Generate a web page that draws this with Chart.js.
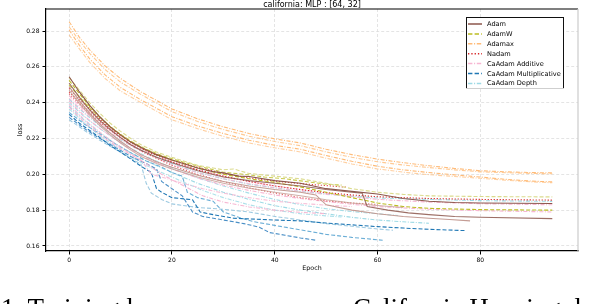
<!DOCTYPE html>
<html><head><meta charset="utf-8">
<script src="https://cdn.jsdelivr.net/npm/chart.js@4.4.1/dist/chart.umd.min.js"></script>
<style>
html,body{margin:0;padding:0;background:#fff;width:592px;height:304px;overflow:hidden;position:relative}
#c{position:absolute;left:0;top:0}
#cap{position:absolute;left:0;top:0;pointer-events:none}
</style></head><body>
<canvas id="c" width="592" height="280"></canvas>
<svg id="cap" width="592" height="304" xmlns="http://www.w3.org/2000/svg">
  <text y="316.5" font-family="Liberation Serif, Times New Roman, serif" font-size="27" fill="#000"><tspan x="1">1. Training loss curves across a</tspan><tspan x="353">California Housing dataset</tspan></text>
</svg>
<script>
const TITLE = "california: MLP : [64, 32]";
const X_LABEL = "Epoch";
const Y_LABEL = "loss";
const EPOCH_TICKS = [0, 20, 40, 60, 80];
const LOSS_TICKS = [0.16, 0.18, 0.20, 0.22, 0.24, 0.26, 0.28];
const OPTIMIZERS = ["Adam", "AdamW", "Adamax", "Nadam", "CaAdam Additive", "CaAdam Multiplicative", "CaAdam Depth"];

// each run: [epoch, loss] pairs
const adamRuns = [
 [[0,0.2545],[2,0.2460],[4,0.2385],[6,0.2320],[8,0.2265],[10,0.2220],[12,0.2180],[14,0.2150],[17,0.2110],[20,0.2080],[25,0.2035],[28,0.2015],[30,0.2008],[33,0.1990],[35,0.1988],[40,0.1965],[45,0.1950],[50,0.1920],[55,0.1905],[60,0.1890],[65,0.1865],[70,0.1850],[75,0.1843],[80,0.1840],[94,0.1837]],
 [[0,0.2510],[2,0.2430],[4,0.2360],[6,0.2300],[8,0.2250],[10,0.2205],[12,0.2165],[14,0.2135],[17,0.2095],[20,0.2065],[25,0.2020],[30,0.1985],[35,0.1965],[40,0.1950],[45,0.1935],[50,0.1915],[55,0.1900],[57,0.1895],[58,0.1820],[62,0.1800],[66,0.1785],[70,0.1775],[75,0.1765],[80,0.1760],[94,0.1753]],
 [[0,0.2490],[2,0.2410],[4,0.2340],[6,0.2280],[8,0.2230],[10,0.2185],[12,0.2145],[14,0.2110],[17,0.2070],[20,0.2040],[25,0.1995],[30,0.1960],[35,0.1935],[40,0.1915],[45,0.1900],[48,0.1885],[50,0.1830],[55,0.1800],[60,0.1780],[65,0.1765],[70,0.1755],[74,0.1748],[78,0.1740]],
 [[0,0.2470],[2,0.2395],[4,0.2330],[6,0.2270],[8,0.2220],[10,0.2175],[12,0.2135],[14,0.2100],[17,0.2060],[20,0.2030],[25,0.1985],[30,0.1950],[35,0.1922],[40,0.1900],[45,0.1880],[50,0.1858],[55,0.1840],[60,0.1826],[65,0.1815]]
];
const adamwRuns = [
 [[0,0.2540],[2,0.2470],[4,0.2400],[6,0.2340],[8,0.2285],[10,0.2240],[12,0.2200],[14,0.2165],[17,0.2125],[20,0.2095],[25,0.2050],[28,0.2035],[30,0.2025],[32,0.2030],[35,0.2005],[40,0.1990],[45,0.1975],[50,0.1950],[55,0.1920],[60,0.1900],[65,0.1888],[70,0.1880],[80,0.1876],[94,0.1874]],
 [[0,0.2525],[2,0.2450],[4,0.2380],[6,0.2320],[8,0.2265],[10,0.2220],[12,0.2180],[14,0.2150],[17,0.2110],[20,0.2080],[25,0.2035],[30,0.2000],[35,0.1975],[40,0.1955],[45,0.1930],[50,0.1900],[55,0.1870],[60,0.1840],[65,0.1820],[70,0.1810],[80,0.1803],[94,0.1800]],
 [[0,0.2500],[3,0.2400],[6,0.2315],[9,0.2245],[12,0.2185],[15,0.2140],[18,0.2105],[22,0.2070],[26,0.2040],[30,0.2012],[34,0.2000],[38,0.1985],[42,0.1975],[46,0.1960],[50,0.1945],[53,0.1940]]
];
const adamaxRuns = [
 [[0,0.2852],[2,0.2765],[4,0.2695],[7,0.2605],[10,0.2535],[14,0.2460],[20,0.2365],[25,0.2310],[30,0.2265],[35,0.2228],[40,0.2198],[45,0.2175],[50,0.2140],[55,0.2110],[60,0.2085],[65,0.2065],[70,0.2048],[75,0.2033],[80,0.2020],[85,0.2014],[90,0.2010],[94,0.2008]],
 [[0,0.2824],[2,0.2745],[4,0.2675],[7,0.2585],[10,0.2515],[14,0.2445],[20,0.2350],[25,0.2295],[30,0.2250],[35,0.2213],[40,0.2183],[45,0.2160],[50,0.2125],[55,0.2095],[60,0.2070],[65,0.2052],[70,0.2038],[75,0.2025],[80,0.2014],[85,0.2009],[90,0.2005],[94,0.2003]],
 [[0,0.2806],[2,0.2720],[4,0.2645],[7,0.2555],[10,0.2485],[14,0.2415],[20,0.2322],[25,0.2270],[30,0.2228],[35,0.2190],[40,0.2162],[45,0.2140],[50,0.2105],[55,0.2073],[60,0.2045],[65,0.2025],[70,0.2010],[75,0.1997],[80,0.1985],[85,0.1972],[90,0.1962],[94,0.1958]],
 [[0,0.2778],[2,0.2700],[4,0.2625],[7,0.2535],[10,0.2465],[14,0.2400],[20,0.2305],[25,0.2255],[30,0.2212],[35,0.2175],[40,0.2148],[45,0.2125],[50,0.2090],[55,0.2058],[60,0.2030],[65,0.2012],[70,0.1998],[75,0.1988],[80,0.1978],[85,0.1967],[90,0.1958],[94,0.1953]]
];
const nadamRuns = [
 [[0,0.2480],[3,0.2390],[6,0.2310],[9,0.2240],[12,0.2180],[15,0.2130],[20,0.2070],[25,0.2025],[30,0.1990],[35,0.1960],[40,0.1935],[45,0.1915],[50,0.1898],[55,0.1885],[60,0.1875],[70,0.1865],[80,0.1860],[94,0.1856]],
 [[0,0.2460],[3,0.2375],[6,0.2300],[9,0.2235],[12,0.2180],[15,0.2135],[20,0.2080],[25,0.2040],[30,0.2005],[35,0.1980],[40,0.1962],[45,0.1948],[50,0.1937],[54,0.1928]],
 [[0,0.2450],[3,0.2365],[6,0.2290],[9,0.2225],[12,0.2165],[15,0.2115],[20,0.2050],[25,0.2000],[30,0.1960],[35,0.1925],[40,0.1895],[45,0.1870],[50,0.1852],[55,0.1840],[60,0.1832]]
];
const additiveRuns = [
 [[0,0.2440],[3,0.2355],[6,0.2285],[9,0.2225],[12,0.2170],[15,0.2130],[20,0.2070],[25,0.2025],[30,0.1990],[35,0.1960],[40,0.1935],[45,0.1915],[50,0.1895],[55,0.1875],[60,0.1860],[70,0.1845],[80,0.1836],[94,0.1830]],
 [[0,0.2410],[3,0.2325],[6,0.2255],[9,0.2195],[12,0.2140],[15,0.2090],[20,0.2030],[25,0.1980],[30,0.1940],[35,0.1910],[40,0.1885],[45,0.1865],[50,0.1848],[55,0.1833],[60,0.1820],[70,0.1805],[80,0.1797],[94,0.1790]],
 [[0,0.2390],[3,0.2305],[6,0.2235],[9,0.2170],[12,0.2115],[14,0.2080],[16,0.2000],[18,0.1985],[22,0.1950],[26,0.1920],[30,0.1895],[35,0.1870],[40,0.1850],[45,0.1838],[50,0.1828],[55,0.1820]],
 [[0,0.2425],[3,0.2345],[6,0.2275],[9,0.2215],[12,0.2160],[15,0.2115],[20,0.2055],[25,0.2010],[30,0.1975],[35,0.1948],[40,0.1925],[45,0.1905],[50,0.1888],[55,0.1880]],
 [[0,0.2375],[3,0.2290],[6,0.2220],[9,0.2160],[12,0.2110],[15,0.2060],[18,0.2000],[22,0.1940],[26,0.1880],[30,0.1845],[35,0.1818],[40,0.1800],[45,0.1788],[50,0.1780]]
];
const multiplicativeRuns = [
 [[0,0.2335],[2,0.2285],[4,0.2245],[6,0.2205],[8,0.2160],[10,0.2125],[12,0.2085],[14,0.2045],[16,0.2010],[17,0.1920],[18,0.1900],[20,0.1870],[24,0.1858],[25.5,0.1790],[28,0.1775],[32,0.1755],[40,0.1745],[45,0.1740],[50,0.1728],[55,0.1718],[60,0.1708],[65,0.1700],[70,0.1693],[77,0.1686]],
 [[0,0.2318],[3,0.2255],[6,0.2200],[9,0.2150],[12,0.2100],[15,0.2060],[17,0.2030],[18,0.1960],[20,0.1920],[22,0.1880],[24,0.1790],[26,0.1765],[30,0.1745],[34,0.1725],[37,0.1705],[39,0.1675],[42,0.1660],[45,0.1645],[48,0.1632]],
 [[0,0.2345],[3,0.2280],[6,0.2225],[9,0.2170],[12,0.2120],[15,0.2075],[18,0.2040],[20,0.2010],[22,0.1990],[23,0.1900],[25,0.1870],[28,0.1850],[30,0.1790],[33,0.1760],[36,0.1735],[40,0.1715],[45,0.1690],[50,0.1665],[55,0.1648],[58,0.1640],[61,0.1632]],
 [[0,0.2305],[3,0.2245],[6,0.2190],[9,0.2140],[12,0.2090],[14,0.2055],[15,0.1950],[16,0.1895],[18,0.1860],[20,0.1835],[25,0.1815],[30,0.1805],[35,0.1790],[40,0.1765],[45,0.1745],[50,0.1725],[55,0.1710],[60,0.1695],[63,0.1688]]
];
const depthRuns = [
 [[0,0.2420],[3,0.2340],[6,0.2270],[9,0.2210],[12,0.2160],[15,0.2120],[20,0.2060],[25,0.2010],[30,0.1975],[35,0.1945],[40,0.1925],[45,0.1905],[50,0.1890],[55,0.1878],[60,0.1868],[70,0.1860],[80,0.1853],[94,0.1849]],
 [[0,0.2380],[3,0.2300],[6,0.2230],[9,0.2170],[12,0.2120],[15,0.2075],[20,0.2010],[25,0.1950],[30,0.1900],[35,0.1860],[40,0.1825],[45,0.1800],[50,0.1780],[55,0.1760],[60,0.1745],[65,0.1735],[70,0.1727]],
 [[0,0.2365],[3,0.2285],[6,0.2215],[9,0.2155],[12,0.2100],[15,0.2050],[18,0.2010],[22,0.1960],[26,0.1910],[30,0.1870],[35,0.1830],[40,0.1800],[45,0.1780],[50,0.1768],[53,0.1762]],
 [[0,0.2400],[3,0.2320],[6,0.2255],[9,0.2195],[12,0.2145],[15,0.2100],[20,0.2035],[25,0.1980],[30,0.1935],[35,0.1895],[40,0.1860],[45,0.1830],[50,0.1808],[55,0.1792],[60,0.1780],[64,0.1770]]
];

const DASHED = [4, 2], DASHDOT = [4, 1.5, 1, 1.5], DOTTED = [1.2, 1.8];
const groups = [
 {name: OPTIMIZERS[0], runs: adamRuns, colors: ["#8c564b", "rgba(140,86,75,0.85)", "#c49c94", "rgba(196,156,148,0.8)"], dash: [], legendColor: "#8c564b"},
 {name: OPTIMIZERS[1], runs: adamwRuns, colors: ["#dbdb8d", "#bcbd22", "rgba(188,189,34,0.8)"], dash: DASHED, legendColor: "#bcbd22"},
 {name: OPTIMIZERS[2], runs: adamaxRuns, colors: ["#ffbb78", "rgba(255,187,120,0.8)", "#ffbb78", "rgba(255,187,120,0.7)"], dash: DASHDOT, legendColor: "#ffbb78"},
 {name: OPTIMIZERS[3], runs: nadamRuns, colors: ["#d62728", "rgba(214,39,40,0.85)", "rgba(214,39,40,0.7)"], dash: DOTTED, legendColor: "#d62728"},
 {name: OPTIMIZERS[4], runs: additiveRuns, colors: ["#f7b6d2", "#f7b6d2", "rgba(247,182,210,0.85)", "rgba(247,182,210,0.8)", "#f7b6d2"], dash: DASHDOT, legendColor: "#f7b6d2"},
 {name: OPTIMIZERS[5], runs: multiplicativeRuns, colors: ["#1f77b4", "#4a8fc6", "#6baed6", "#9ecae1"], dash: DASHED, legendColor: "#1f77b4"},
 {name: OPTIMIZERS[6], runs: depthRuns, colors: ["#9edae5", "#9edae5", "rgba(158,218,229,0.85)", "rgba(158,218,229,0.9)"], dash: DASHDOT, legendColor: "#9edae5"}
];

const datasets = [];
groups.forEach(g => g.runs.forEach((run, i) => datasets.push({
  label: g.name,
  data: run.map(p => ({x: p[0], y: p[1]})),
  borderColor: g.colors[i % g.colors.length],
  borderDash: g.dash,
  borderWidth: 1.1,
  pointRadius: 0,
  fill: false,
  tension: 0
})));

const decor = {
  id: 'decor',
  afterDraw(chart) {
    const ctx = chart.ctx, a = chart.chartArea;
    ctx.save();
    ctx.lineWidth = 1.2;
    ctx.strokeStyle = '#000';
    ctx.beginPath(); ctx.moveTo(a.left - 0.6, a.top); ctx.lineTo(a.right, a.top); ctx.stroke();
    ctx.strokeStyle = '#cccccc';
    ctx.beginPath(); ctx.moveTo(a.right, a.top); ctx.lineTo(a.right, a.bottom); ctx.stroke();
    ctx.fillStyle = '#000';
    ctx.font = '8px "DejaVu Sans"';
    ctx.textAlign = 'center'; ctx.textBaseline = 'alphabetic';
    ctx.fillText(TITLE, (a.left + a.right) / 2, 6.5);
    ctx.font = '6.3px "DejaVu Sans"';
    ctx.textBaseline = 'middle';
    ctx.fillText(X_LABEL, (a.left + a.right) / 2, 268);
    ctx.save();
    ctx.translate(20, (a.top + a.bottom) / 2);
    ctx.rotate(-Math.PI / 2);
    ctx.font = '6.6px "DejaVu Sans"';
    ctx.fillText(Y_LABEL, 0, 0);
    ctx.restore();
    // legend
    const lx = 466, ly = 17, lw = 98, lh = 72;
    ctx.fillStyle = '#fff';
    ctx.fillRect(lx, ly, lw, lh);
    ctx.lineWidth = 1;
    ctx.strokeStyle = '#111';
    ctx.strokeRect(lx + 0.5, ly + 0.5, lw - 1, lh - 1);
    ctx.strokeStyle = '#cfcfcf';
    ctx.beginPath(); ctx.moveTo(lx, ly + lh - 0.5); ctx.lineTo(lx + lw, ly + lh - 0.5); ctx.stroke();
    ctx.font = '6.6px "DejaVu Sans"';
    ctx.textAlign = 'left'; ctx.textBaseline = 'middle';
    groups.forEach((g, i) => {
      const y = 24 + i * 9.9;
      ctx.strokeStyle = g.legendColor;
      ctx.lineWidth = 1.5;
      ctx.setLineDash(g.dash.map(d => d * 1.1));
      ctx.beginPath(); ctx.moveTo(468, y); ctx.lineTo(482, y); ctx.stroke();
      ctx.setLineDash([]);
      ctx.fillStyle = '#000';
      ctx.fillText(g.name, 487, y + 0.3);
    });
    ctx.restore();
  }
};

new Chart(document.getElementById('c'), {
  type: 'line',
  data: {datasets},
  options: {
    responsive: false,
    animation: false,
    devicePixelRatio: 1,
    layout: {padding: {top: 9, right: 14, left: 0, bottom: 0}},
    plugins: {legend: {display: false}, title: {display: false}, tooltip: {enabled: false}},
    scales: {
      x: {
        type: 'linear', min: -4.5, max: 99,
        afterBuildTicks: s => { s.ticks = EPOCH_TICKS.map(v => ({value: v})); },
        afterFit: s => { s.height = 29; },
        grid: {color: '#dddddd', lineWidth: 0.8, drawTicks: true, tickLength: 3.5, tickColor: '#000', tickWidth: 1},
        border: {display: true, color: '#000', width: 1.2, dash: [3, 2]},
        ticks: {color: '#000', font: {family: 'DejaVu Sans', size: 6}, padding: 2, maxRotation: 0, callback: v => String(v)}
      },
      y: {
        type: 'linear', min: 0.1572, max: 0.2923,
        afterBuildTicks: s => { s.ticks = LOSS_TICKS.map(v => ({value: v})); },
        afterFit: s => { s.width = 46; },
        grid: {color: '#dddddd', lineWidth: 0.8, drawTicks: true, tickLength: 3.5, tickColor: '#000', tickWidth: 1},
        border: {display: true, color: '#000', width: 1.2, dash: [3, 2]},
        ticks: {color: '#000', font: {family: 'DejaVu Sans', size: 6}, padding: 3, callback: v => v.toFixed(2)}
      }
    }
  },
  plugins: [decor]
});
</script>
</body></html>
